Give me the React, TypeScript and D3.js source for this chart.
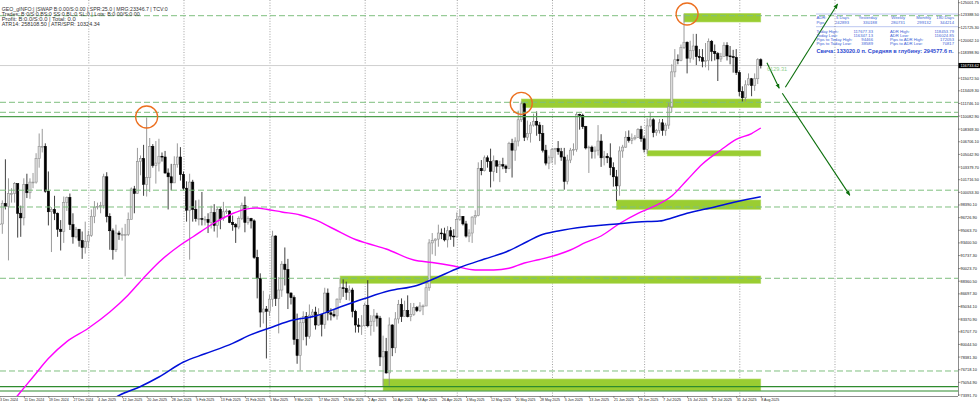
import React from 'react';
import * as d3 from 'd3';

// daily bars from this date on, one row per day: [open, high, low, close]
const firstBar = '2024-12-01';

const dec2024 = [
  [96400, 97900, 95700, 97200], [97200, 98200, 94400, 95800], [95800, 96300, 93600, 95900],
  [95900, 99000, 94600, 98600], [98600, 104400, 97800, 98200], [98200, 101900, 91100, 99900],
  [99900, 100600, 98700, 99900], [99900, 101400, 98700, 101200], [101200, 101200, 94100, 97300],
  [97300, 98300, 94200, 96700], [96700, 101900, 95700, 101100], [101100, 102500, 99300, 100000],
  [100000, 101900, 99200, 101400], [101400, 102600, 100600, 101400], [101400, 105200, 101200, 104500],
  [104500, 107800, 103300, 106100], [106100, 108400, 105300, 106100], [106100, 106500, 100000, 100200],
  [100200, 102800, 95700, 97500], [97500, 98100, 92200, 97800], [97800, 99600, 96400, 97300],
  [97300, 97400, 94200, 95200], [95200, 96400, 92400, 94900], [94900, 99500, 93400, 98700],
  [98700, 99500, 97600, 99400], [99400, 99900, 95100, 95800], [95800, 97300, 93300, 94200],
  [94200, 95500, 94000, 95200], [95200, 95200, 92900, 93700], [93700, 94900, 91300, 92800],
  [92800, 96200, 92000, 93600],
];

const jan2025 = [
  [93600, 95000, 92700, 94400], [94400, 97800, 94200, 96900], [96900, 98900, 96000, 98100],
  [98100, 98700, 97800, 98200], [98200, 98800, 97300, 98300], [98300, 102500, 97900, 102100],
  [102100, 102700, 96100, 96900], [96900, 97300, 92500, 95000], [95000, 95300, 91200, 92500],
  [92500, 95800, 92200, 94700], [94700, 95000, 93800, 94500], [94500, 95400, 93700, 94500],
  [94500, 95900, 89000, 94500], [94500, 97400, 94300, 96500], [96500, 100700, 96500, 100500],
  [100500, 100900, 97300, 99900], [99900, 105900, 99900, 104100], [104100, 104900, 102300, 104500],
  [104500, 106300, 99600, 101100], [101100, 109900, 99500, 102000], [102000, 107200, 100100, 106100],
  [106100, 106400, 103300, 103600], [103600, 106800, 101200, 103900], [103900, 107100, 102800, 104800],
  [104800, 105300, 104100, 104700], [104700, 105500, 102500, 102600], [102600, 103200, 97800, 102100],
  [102100, 103800, 100300, 101300], [101300, 104800, 101300, 103700], [103700, 106500, 103300, 104700],
  [104700, 106000, 101600, 102400],
];

const feb2025 = [
  [102400, 102800, 100300, 100600], [100600, 101500, 96200, 97700], [97700, 102500, 91200, 101400],
  [101400, 101700, 96200, 97800], [97800, 99000, 96200, 96600], [96600, 99100, 95700, 96600],
  [96600, 100100, 95700, 96500], [96500, 96900, 95700, 96500], [96500, 97300, 94700, 96100],
  [96100, 98300, 95300, 97400], [97400, 98500, 94900, 95700], [95700, 98100, 94100, 97800],
  [97800, 98100, 95200, 96600], [96600, 98800, 96300, 97500], [97500, 97900, 97200, 97600],
  [97600, 97700, 96000, 96100], [96100, 97000, 95000, 95800], [95800, 96000, 93400, 95500],
  [95500, 96900, 95200, 96600], [96600, 98700, 96400, 98300], [98300, 99500, 94800, 96100],
  [96100, 96900, 95800, 96600], [96600, 96700, 95300, 96300], [96300, 96500, 91300, 91500],
  [91500, 92500, 86100, 88700], [88700, 89400, 82300, 84300], [84300, 87100, 82800, 84700],
  [84700, 85100, 78200, 84400],
];

const mar2025 = [
  [84400, 86600, 83800, 86000], [86000, 95000, 85000, 94300], [94300, 94400, 85100, 86100],
  [86100, 88900, 81500, 87200], [87200, 91000, 86300, 90600], [90600, 92800, 87800, 89900],
  [89900, 91300, 84700, 86800], [86800, 86900, 85300, 86200], [86200, 86500, 80000, 80700],
  [80700, 84100, 77500, 78600], [78600, 83600, 76600, 82900], [82900, 84400, 80600, 83700],
  [83700, 84300, 79900, 81100], [81100, 85300, 80800, 83900], [83900, 84700, 83600, 84300],
  [84300, 85000, 82000, 82600], [82600, 84800, 82500, 84000], [84000, 84000, 81100, 82700],
  [82700, 87500, 82100, 86800], [86800, 87400, 83200, 84200], [84200, 84800, 83200, 84000],
  [84000, 84600, 83600, 83800], [83800, 86100, 83300, 86000], [86000, 88800, 85500, 87500],
  [87500, 88600, 86300, 87400], [87400, 88300, 85900, 86900], [86900, 87800, 85800, 87200],
  [87200, 87500, 83600, 84400], [84400, 84600, 81600, 82600], [82600, 83500, 81600, 82400],
  [82400, 83900, 81300, 82500],
];

const apr2025 = [
  [82500, 85500, 82400, 85200], [85200, 88500, 82300, 82500], [82500, 83900, 81200, 83100],
  [83100, 84700, 81700, 83800], [83800, 84200, 82400, 83500], [83500, 83800, 77200, 78400],
  [78400, 81200, 74500, 79100], [79100, 80900, 76200, 76300], [76300, 83600, 74600, 82600],
  [82600, 82700, 78500, 79600], [79600, 84300, 78900, 83400], [83400, 85900, 82800, 85300],
  [85300, 86100, 83000, 83700], [83700, 85800, 83700, 84500], [84500, 86500, 83600, 83700],
  [83700, 85500, 83100, 84000], [84000, 85500, 83800, 84900], [84900, 85100, 84300, 84500],
  [84500, 85600, 84300, 85100], [85100, 85300, 83900, 85100], [85100, 88500, 85100, 87500],
  [87500, 93900, 87100, 93400], [93400, 94700, 91900, 93700], [93700, 94000, 91700, 93900],
  [93900, 95800, 92900, 94700], [94700, 95300, 93900, 94600], [94600, 95400, 93600, 93800],
  [93800, 95600, 92800, 95000], [95000, 95500, 93800, 94300], [94300, 95200, 92900, 94200],
];

const may2025 = [
  [94200, 97400, 94100, 96500], [96500, 97900, 96300, 96900], [96900, 96900, 95700, 95900],
  [95900, 96300, 94100, 94300], [94300, 95200, 93500, 94700], [94700, 96900, 93400, 96800],
  [96800, 97700, 95800, 97000], [97000, 104000, 96900, 103200], [103200, 104300, 102300, 102900],
  [102900, 104900, 102800, 104600], [104600, 104900, 103300, 104100], [104100, 105800, 100700, 102800],
  [102800, 104900, 101500, 104200], [104200, 104300, 102600, 103500], [103500, 104200, 101400, 103700],
  [103700, 104600, 103100, 103500], [103500, 103700, 102600, 103200], [103200, 106700, 103100, 106500],
  [106500, 107100, 102000, 105600], [105600, 107300, 104200, 106800], [106800, 110800, 106100, 109600],
  [109600, 112000, 109300, 111700], [111700, 111900, 106800, 107300], [107300, 109500, 106900, 107800],
  [107800, 109300, 106600, 108900], [108900, 110400, 108700, 109400], [109400, 110700, 107500, 108900],
  [108900, 109300, 106800, 107800], [107800, 108900, 105300, 105600], [105600, 106300, 103600, 103900],
  [103900, 104900, 103100, 104600],
];

const jun2025 = [
  [104600, 105900, 103900, 105700], [105700, 105900, 103700, 105800], [105800, 106800, 105000, 105400],
  [105400, 105900, 104200, 104700], [104700, 105900, 100400, 101500], [101500, 105000, 101100, 104300],
  [104300, 105900, 103900, 105600], [105600, 106500, 104900, 105700], [105700, 110500, 105400, 110300],
  [110300, 110400, 108300, 110200], [110200, 110400, 108400, 108700], [108700, 108800, 105700, 105900],
  [105900, 106200, 102600, 106000], [106000, 106200, 104500, 105400], [105400, 106100, 104500, 105600],
  [105600, 108900, 104900, 106800], [106800, 107700, 103400, 104600], [104600, 105500, 103600, 104800],
  [104800, 105200, 103900, 104600], [104600, 106500, 102300, 103300], [103300, 104000, 100800, 102100],
  [102100, 103000, 98900, 100900], [100900, 106100, 99600, 105500], [105500, 106300, 104600, 106000],
  [106000, 108100, 105900, 107300], [107300, 108200, 106600, 106900], [106900, 107800, 106400, 107100],
  [107100, 107600, 106900, 107300], [107300, 108500, 107200, 108300], [108300, 108800, 106700, 107100],
];

const jul2025 = [
  [107100, 107500, 105300, 105700], [105700, 109800, 105100, 108800], [108800, 110500, 108600, 109600],
  [109600, 109800, 107300, 107900], [107900, 108400, 107500, 108200], [108200, 109700, 107800, 109200],
  [109200, 109700, 107500, 108200], [108200, 109200, 107500, 108900], [108900, 111900, 108400, 111300],
  [111300, 116900, 110600, 115900], [115900, 118900, 115200, 117500], [117500, 118200, 116900, 117400],
  [117400, 119500, 117300, 119100], [119100, 123500, 118900, 119800], [119800, 119900, 115700, 117700],
  [117700, 120000, 117100, 118700], [118700, 120900, 117500, 119300], [119300, 120900, 116800, 117900],
  [117900, 118900, 117300, 117800], [117800, 118900, 116500, 117300], [117300, 119700, 116500, 117400],
  [117400, 120300, 116100, 119900], [119900, 120100, 117300, 118600], [118600, 119500, 117400, 118300],
  [118300, 118500, 114700, 117600], [117600, 118400, 117200, 117900], [117900, 119800, 117900, 119400],
  [119400, 119800, 117400, 118000], [118000, 119300, 116900, 117900], [117900, 118800, 115800, 117800],
  [117800, 118900, 115500, 115800],
];

const aug2025 = [
  [115800, 116100, 112700, 113300], [113300, 114000, 112000, 112500], [112500, 114800, 112000, 114200],
  [114200, 115700, 114100, 115000], [115000, 115100, 112700, 114100], [114100, 115700, 113400, 115000],
  [115000, 117700, 114300, 117500], [117500, 117677.33, 116347.13, 116733.62],
];

const bars = [...dec2024, ...jan2025, ...feb2025, ...mar2025, ...apr2025, ...may2025, ...jun2025, ...jul2025, ...aug2025];
const lastPrice = 116733.62;

// moving averages
const magentaDates = [
  '2024-12-03', '2024-12-09', '2024-12-14', '2024-12-19', '2024-12-25', '2025-01-01', '2025-01-08',
  '2025-01-14', '2025-01-19', '2025-01-24', '2025-01-31', '2025-02-04', '2025-02-11', '2025-02-17',
  '2025-02-21', '2025-02-25', '2025-02-28', '2025-03-05', '2025-03-11', '2025-03-16', '2025-03-22',
  '2025-03-29', '2025-04-02', '2025-04-08', '2025-04-17', '2025-04-23', '2025-04-30', '2025-05-07',
  '2025-05-13', '2025-05-18', '2025-05-23', '2025-05-28', '2025-06-03', '2025-06-07', '2025-06-12',
  '2025-06-17', '2025-06-23', '2025-06-29', '2025-07-04', '2025-07-10', '2025-07-15', '2025-07-20',
  '2025-07-26', '2025-07-31', '2025-08-05', '2025-08-08',
];
const magentaValues = [
  70500, 73330, 75760, 78190, 80410, 82170, 84310, 86550, 88790, 90860, 93130, 94180, 96020, 97270,
  97820, 97990, 97820, 97470, 97070, 96420, 95230, 93850, 93320, 92600, 91150, 90820, 90360, 89840,
  89840, 90060, 90760, 91220, 91880, 92470, 93460, 94310, 95950, 97300, 98170, 99570, 101680, 103780,
  105620, 107010, 107790, 108520,
];
const blueDates = [
  '2025-01-08', '2025-01-11', '2025-01-18', '2025-01-24', '2025-02-01', '2025-02-08', '2025-02-17',
  '2025-02-23', '2025-03-02', '2025-03-08', '2025-03-16', '2025-03-24', '2025-04-01', '2025-04-09',
  '2025-04-18', '2025-04-23', '2025-05-02', '2025-05-10', '2025-05-17', '2025-05-24', '2025-05-28',
  '2025-06-03', '2025-06-12', '2025-06-21', '2025-06-29', '2025-07-06', '2025-07-10', '2025-07-15',
  '2025-07-24', '2025-07-31', '2025-08-08',
];
const blueValues = [
  72600, 73330, 74510, 75760, 77730, 78810, 80190, 81330, 82340, 83190, 83790, 84970, 86090, 87100,
  87800, 88590, 90170, 91280, 92210, 93590, 94380, 94970, 95520, 95850, 96150, 96280, 96680, 97300,
  98130, 98820, 99480,
];

// zones drawn from a start bar to the last bar
const zoneStart = ['2025-07-14', '2025-05-22', '2025-07-02', '2025-06-22', '2025-03-24', '2025-04-07'];
const zoneTop = [123607, 112333, 105531, 99045, 89047, 75497];
const zoneBottom = [122463, 111188, 104834, 97822, 88087, 73958];

const dashedLevels = [123292, 111899, 110583, 100335, 98125, 88745, 76550];
const solidLevels = [110005, 74484, 73919];

const circleDates = ['2025-01-20', '2025-05-22', '2025-07-15'];
const circlePrices = [109965, 111767, 123515];

const arrowFromDates = ['2025-08-10', '2025-08-16', '2025-08-15'];
const arrowFromPrices = [117110, 113870, 113080];
const arrowToDates = ['2025-08-14', '2025-09-02', '2025-09-06'];
const arrowToPrices = [113740, 124830, 99660];

const monthStarts = [
  '2025-01-01', '2025-02-01', '2025-03-01', '2025-04-01', '2025-05-01',
  '2025-06-01', '2025-07-01', '2025-08-01', '2025-09-01',
];

const priceTicks = [
  125001.75, 123388.5, 121725.3, 120062.1, 118398.9, 115072.5, 113409.3, 111746.1, 110082.9,
  108369.3, 106706.1, 105042.9, 103379.7, 101716.5, 100053.3, 98390.1, 96726.9, 95063.7, 93400.5,
  91737.3, 90023.7, 88360.5, 86697.3, 85034.1, 83370.9, 81707.7, 80044.5, 78381.3, 76718.1,
  75054.9, 73391.7,
];

const timeTicks = [
  '3 Dec 2024', '11 Dec 2024', '19 Dec 2024', '27 Dec 2024', '4 Jan 2025', '12 Jan 2025',
  '20 Jan 2025', '28 Jan 2025', '5 Feb 2025', '13 Feb 2025', '21 Feb 2025', '1 Mar 2025',
  '9 Mar 2025', '17 Mar 2025', '25 Mar 2025', '2 Apr 2025', '10 Apr 2025', '18 Apr 2025',
  '26 Apr 2025', '4 May 2025', '12 May 2025', '20 May 2025', '28 May 2025', '5 Jun 2025',
  '13 Jun 2025', '21 Jun 2025', '29 Jun 2025', '7 Jul 2025', '15 Jul 2025', '23 Jul 2025',
  '31 Jul 2025', '8 Aug 2025',
];

const infoLines = [
  'GEO_gINFO:| |SWAP B:0.00/S:0.00 | SPR:25.0 | MRG:23346.7 | TCV:0',
  'Trades: B:0/S:0 BS:0 SS:0 BL:0 SL:0 | Lots: B:0.00/S:0.00',
  'Profit: B:0.0/S:0.0 | Total: 0.0',
  'ATR14: 258108.50 | ATR/SPR: 10324.34',
];
const infoWidths = [166, 138, 74, 98];

const adrHeads = ['ADR:', '5 Days', 'Yesterday', 'Weekly', 'Monthly', '180 Days'];
const adrPips = ['Pips:', '242893', '330188', '280731', '299132', '344214'];
const todayLabels = ['Today High:', 'Today Low:', 'Pips to Today High:', 'Pips to Today Low:'];
const todayValues = ['117677.33', '116347.13', '94466', '38589'];
const adrLabels = ['ADR High:', 'ADR Low:', 'Pips to ADR High:', 'Pips to ADR Low:'];
const adrValues = ['118453.79', '116024.85', '172053', '70817'];
const candleLine = 'Свеча: 133020.0 п. Средняя в глубину: 294577.6 п.';
const arrowNote = '6129.31';

const W = 980;
const H = 404;
const plotRight = 958;
const plotBottom = 396;
const font = '"Liberation Sans", Arial, sans-serif';

const day = (s: string) => new Date(s + 'T00:00:00Z');

export default function App() {
  const x = d3.scaleUtc().domain([day('2024-12-03'), day('2025-08-01')]).range([-0.75, 739.3]);
  const y = d3.scaleLinear().domain([73391.7, 125001.75]).range([395, 2.7]);

  const t0 = day(firstBar);
  const candles = bars.map((b, i) => ({ date: d3.utcDay.offset(t0, i), o: b[0], h: b[1], l: b[2], c: b[3] }));
  const lastX = x(candles[candles.length - 1].date);

  const line = d3.line<[string, number]>()
    .x(d => x(day(d[0])))
    .y(d => y(d[1]))
    .curve(d3.curveMonotoneX);
  const magentaPath = line(d3.zip(magentaDates, magentaValues) as [string, number][]) || '';
  const bluePath = line(d3.zip(blueDates, blueValues) as [string, number][]) || '';

  const parseTick = d3.utcParse('%d %b %Y');
  const bodyW = 2.2;

  const panelX = 816.5;
  const colRight = [0, 849, 877, 905, 931, 954];
  const panelBlue = '#3d5fd6';

  return (
    <svg width={W} height={H} style={{ position: 'absolute', left: 0, top: 0, background: '#fff' }}>
      <defs>
        <clipPath id="plot">
          <rect x={0} y={0} width={plotRight} height={plotBottom} />
        </clipPath>
        <marker id="head" viewBox="0 0 10 10" refX="9" refY="5" markerWidth="5" markerHeight="5"
          markerUnits="userSpaceOnUse" orient="auto">
          <path d="M0,1 L10,5 L0,9 z" fill="#0a6e0a" />
        </marker>
      </defs>
      <rect x={0} y={0} width={W} height={H} fill="#fff" />

      <g clipPath="url(#plot)">
        {/* month separators */}
        {monthStarts.map(m => (
          <line key={m} x1={x(day(m)) + 0.5} x2={x(day(m)) + 0.5} y1={0} y2={plotBottom}
            stroke="#8a8a8a" strokeWidth={0.8} strokeDasharray="1 1.6" />
        ))}

        {/* bid line */}
        <line x1={0} x2={plotRight} y1={y(lastPrice)} y2={y(lastPrice)} stroke="#cfcfcf" strokeWidth={1} />

        {/* zones */}
        {zoneStart.map((s, i) => (
          <rect key={s} x={x(day(s))} y={y(zoneTop[i])} width={lastX - x(day(s))}
            height={y(zoneBottom[i]) - y(zoneTop[i])} fill="#9acd32" stroke="#b5dc6a" strokeWidth={0.6} />
        ))}

        {/* candles */}
        {candles.map((d, i) => {
          const cx = x(d.date);
          const up = d.c >= d.o;
          const top = y(Math.max(d.o, d.c));
          const bot = y(Math.min(d.o, d.c));
          return (
            <g key={i}>
              <line x1={cx} x2={cx} y1={y(d.h)} y2={y(d.l)} stroke={up ? '#8f8f8f' : '#2a2a2a'} strokeWidth={0.9} />
              <rect x={cx - bodyW / 2} y={top} width={bodyW} height={Math.max(0.8, bot - top)}
                fill={up ? '#dcdcdc' : '#000'} stroke={up ? '#8f8f8f' : '#000'} strokeWidth={0.6} />
            </g>
          );
        })}

        {/* levels */}
        {dashedLevels.map(p => (
          <line key={p} x1={0} x2={plotRight} y1={y(p)} y2={y(p)} stroke="#7fbf7f" strokeWidth={1}
            strokeDasharray="6 3" />
        ))}
        {solidLevels.map((p, i) => (
          <line key={p} x1={0} x2={plotRight} y1={y(p)} y2={y(p)} stroke={i === 0 ? '#4f9f4f' : '#2e8b2e'}
            strokeWidth={1.2} />
        ))}

        {/* moving averages */}
        <path d={magentaPath} fill="none" stroke="#ff00ff" strokeWidth={1.4} />
        <path d={bluePath} fill="none" stroke="#0010d8" strokeWidth={1.5} />

        {/* marked highs */}
        {circleDates.map((s, i) => (
          <circle key={s} cx={x(day(s))} cy={y(circlePrices[i])} r={11} fill="none" stroke="#ec6f1f" strokeWidth={1.3} />
        ))}

        {/* forecast arrows */}
        {arrowFromDates.map((s, i) => (
          <line key={s} x1={x(day(s))} y1={y(arrowFromPrices[i])} x2={x(day(arrowToDates[i]))}
            y2={y(arrowToPrices[i])} stroke="#0a6e0a" strokeWidth={1.1} markerEnd="url(#head)" />
        ))}
        <text x={x(day('2025-08-10'))} y={y(116240) + 1.8} fontSize={5.6} fill="#8fd08f" fontFamily={font}>
          {arrowNote}
        </text>
      </g>

      {/* account info, top left */}
      {infoLines.map((s, i) => (
        <text key={s} x={1.7} y={10.8 + i * 5} fontSize={5.1} fill="#333" fontFamily={font}
          textLength={infoWidths[i]} lengthAdjust="spacingAndGlyphs">{s}</text>
      ))}

      {/* ADR panel */}
      <g fontFamily={font} fill={panelBlue} fontSize={4.2}>
        <line x1={panelX} x2={plotRight} y1={14} y2={14} stroke={panelBlue} strokeWidth={0.7} strokeDasharray="1 1" />
        <line x1={panelX} x2={plotRight} y1={26.7} y2={26.7} stroke={panelBlue} strokeWidth={0.7} strokeDasharray="1 1" />
        {adrHeads.map((s, i) => (
          <text key={s} x={i === 0 ? panelX : colRight[i]} y={18.8} textAnchor={i === 0 ? 'start' : 'end'}>{s}</text>
        ))}
        {adrPips.map((s, i) => (
          <text key={s} x={i === 0 ? panelX : colRight[i]} y={24.2} textAnchor={i === 0 ? 'start' : 'end'}>{s}</text>
        ))}
        {todayLabels.map((s, i) => (
          <g key={s}>
            <text x={panelX} y={32.5 + i * 4.3}>{s}</text>
            <text x={873} y={32.5 + i * 4.3} textAnchor="end">{todayValues[i]}</text>
            <text x={890} y={32.5 + i * 4.3}>{adrLabels[i]}</text>
            <text x={954} y={32.5 + i * 4.3} textAnchor="end">{adrValues[i]}</text>
          </g>
        ))}
        <text x={panelX} y={52.8} fontSize={5} fontWeight="bold" fill="#2b48d0" textLength={137}
          lengthAdjust="spacingAndGlyphs">{candleLine}</text>
      </g>

      {/* price axis */}
      <line x1={plotRight + 0.5} x2={plotRight + 0.5} y1={0} y2={plotBottom} stroke="#6e6e6e" strokeWidth={0.8} />
      <line x1={0} x2={plotRight} y1={plotBottom + 0.5} y2={plotBottom + 0.5} stroke="#6e6e6e" strokeWidth={0.8} />
      {priceTicks.map(p => {
        const s = p.toFixed(2);
        return (
          <g key={s}>
            <line x1={plotRight} x2={plotRight + 2.5} y1={y(p)} y2={y(p)} stroke="#555" strokeWidth={0.6} />
            <text x={960.5} y={y(p) + 1.5} fontSize={4.4} fill="#222" fontFamily={font}
              textLength={s.length * 2.05} lengthAdjust="spacingAndGlyphs">{s}</text>
          </g>
        );
      })}
      <rect x={plotRight + 0.5} y={y(lastPrice) - 2.6} width={21.5} height={5.2} fill="#000" />
      <text x={960.5} y={y(lastPrice) + 1.5} fontSize={4.4} fill="#fff" fontFamily={font}
        textLength={18.4} lengthAdjust="spacingAndGlyphs">{lastPrice.toFixed(2)}</text>

      {/* time axis */}
      {timeTicks.map(s => {
        const tx = x(parseTick(s) as Date);
        return (
          <g key={s}>
            <line x1={tx + 0.5} x2={tx + 0.5} y1={plotBottom} y2={plotBottom + 2} stroke="#555" strokeWidth={0.6} />
            <text x={Math.max(0, tx + 0.5)} y={401} fontSize={4.2} fill="#222" fontFamily={font}
              textLength={s.length * 1.8} lengthAdjust="spacingAndGlyphs">{s}</text>
          </g>
        );
      })}
    </svg>
  );
}
